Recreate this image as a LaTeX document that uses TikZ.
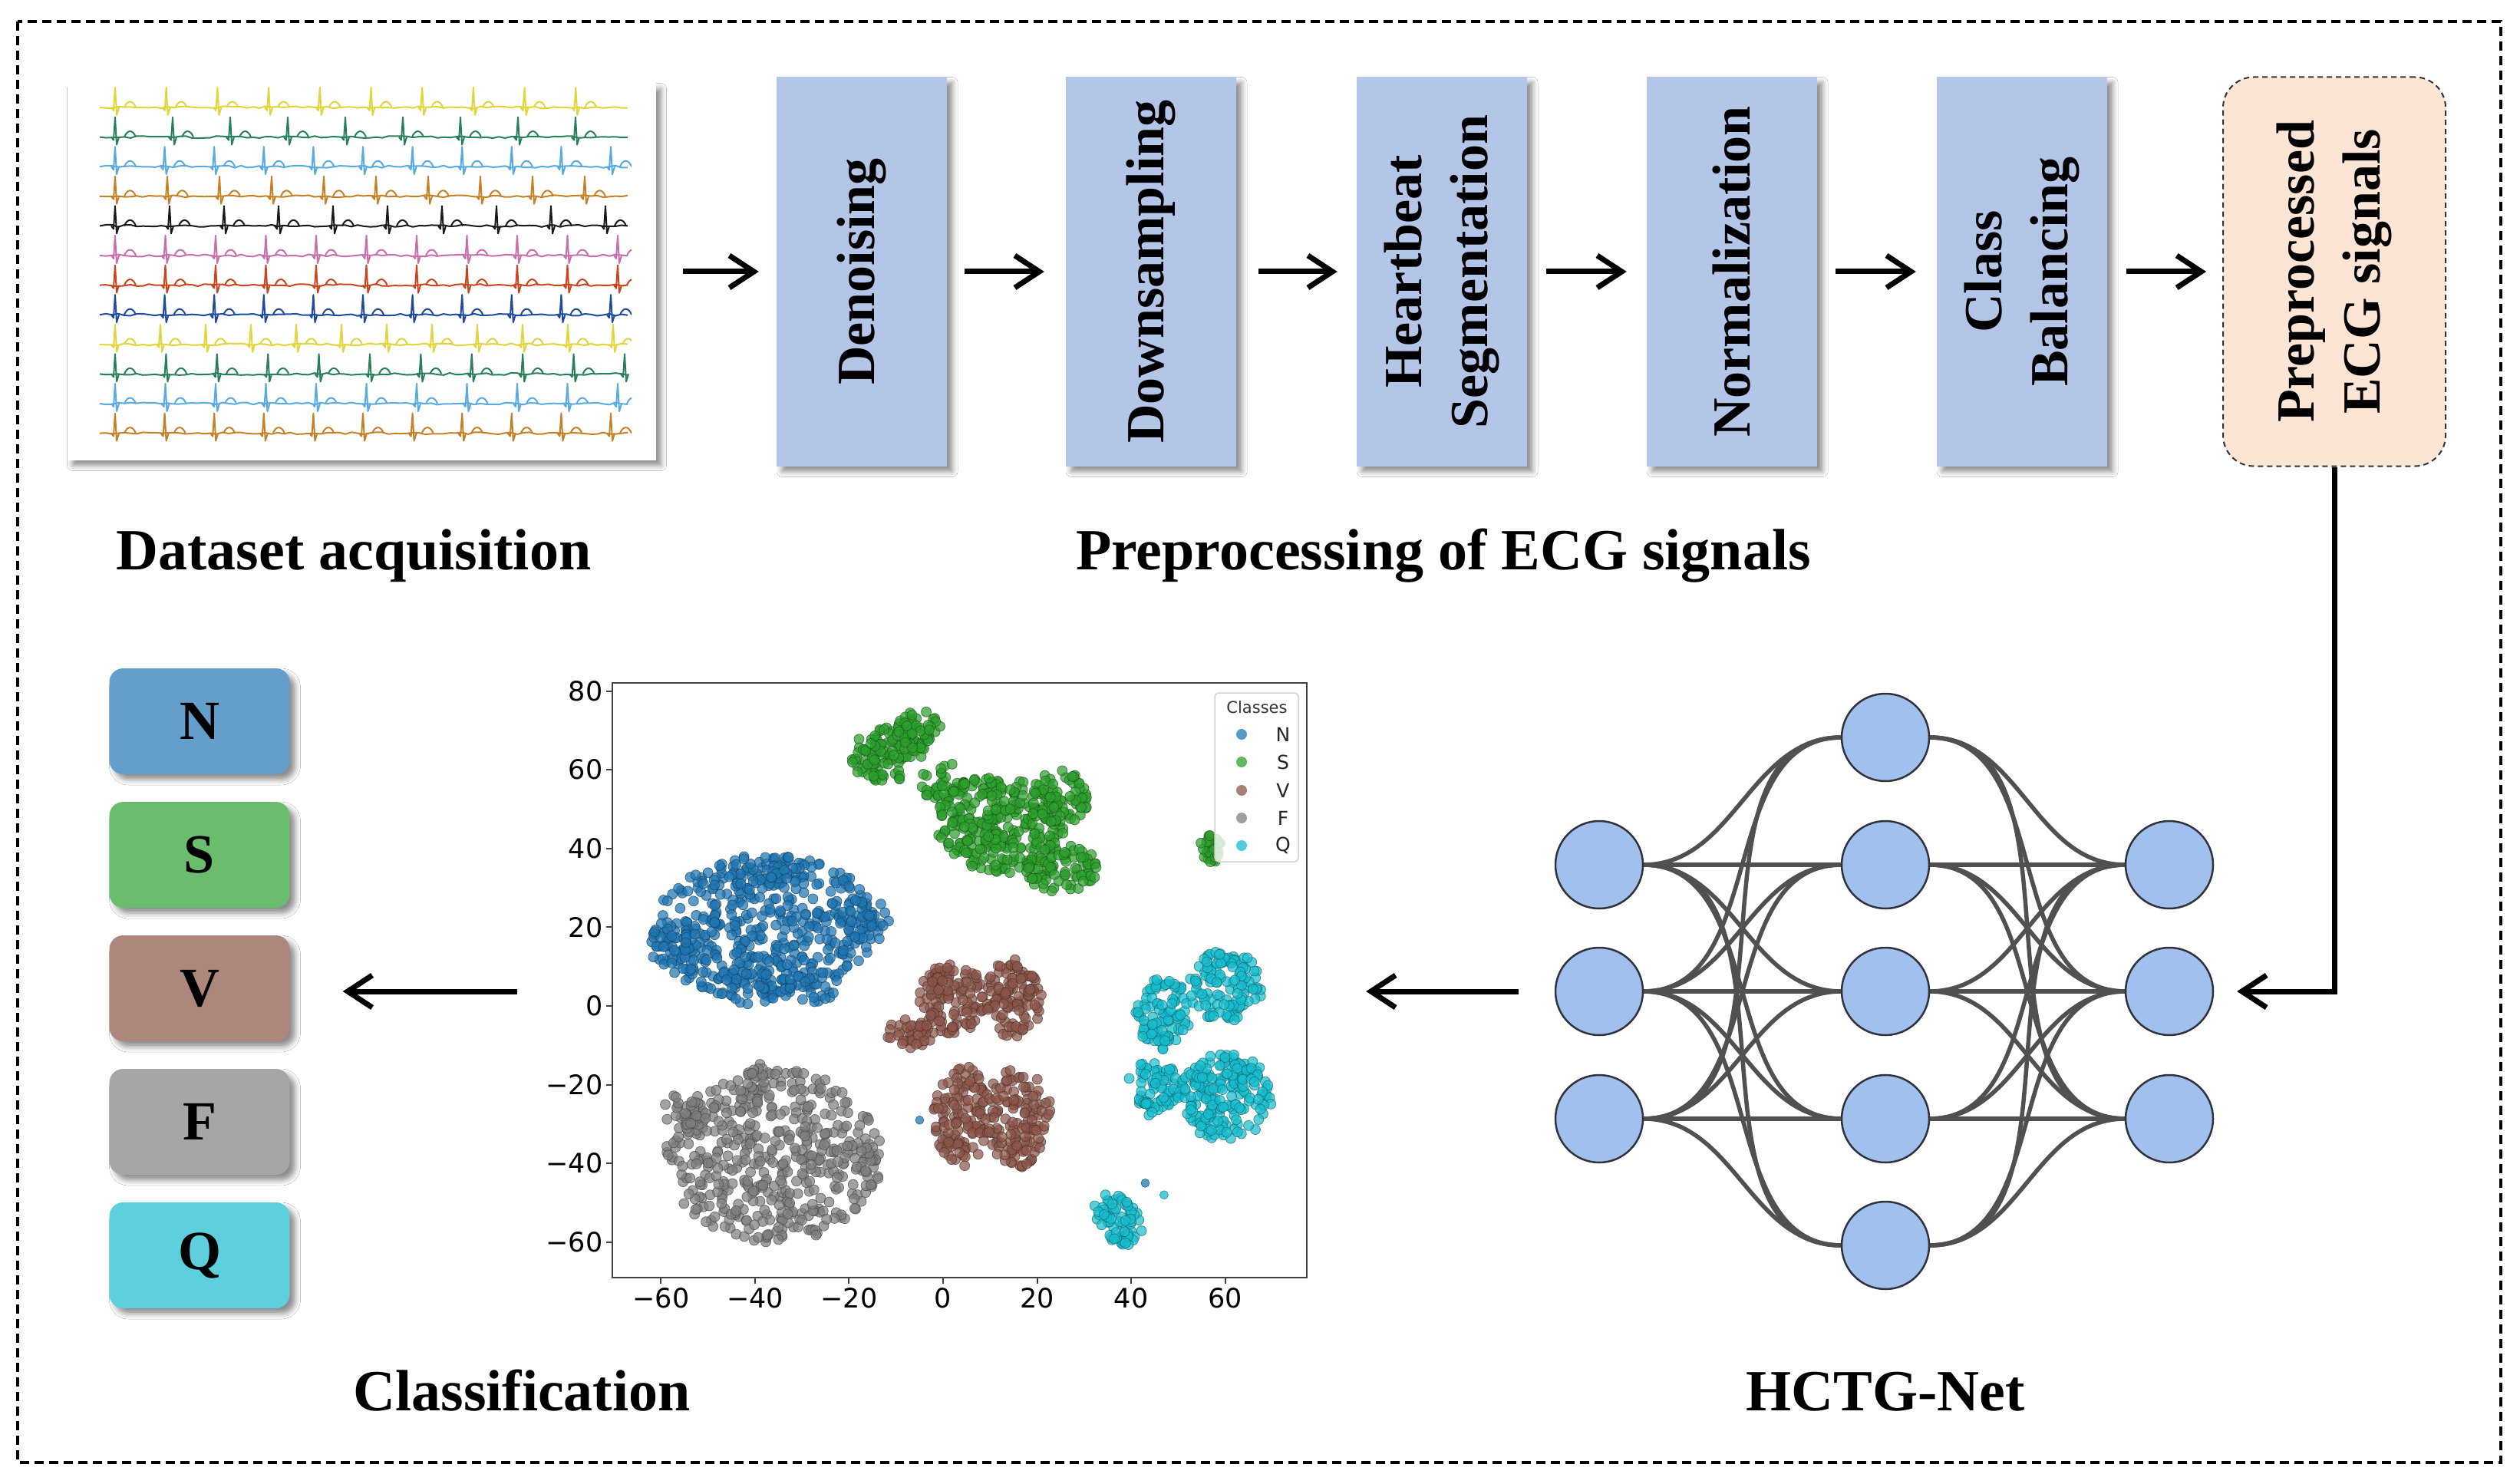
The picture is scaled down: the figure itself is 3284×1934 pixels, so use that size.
\documentclass[tikz,border=0pt]{standalone}
\usepackage{fontspec}
\setmainfont{Liberation Serif}
\newfontfamily\plotfont{DejaVu Sans}
\usetikzlibrary{arrows.meta,shadows,shadows.blur}
\definecolor{boxblue}{RGB}{180,198,231}
\definecolor{peach}{RGB}{252,229,213}
\definecolor{clsN}{RGB}{99,159,202}
\definecolor{clsS}{RGB}{107,189,110}
\definecolor{clsV}{RGB}{173,135,124}
\definecolor{clsF}{RGB}{166,166,166}
\definecolor{clsQ}{RGB}{94,207,220}
\definecolor{tabN}{HTML}{1F77B4}
\definecolor{tabS}{HTML}{2CA02C}
\definecolor{tabV}{HTML}{8C564B}
\definecolor{tabF}{HTML}{7F7F7F}
\definecolor{tabQ}{HTML}{17BECF}
\definecolor{nnfill}{RGB}{160,193,238}
\definecolor{nnborder}{RGB}{50,50,60}
\definecolor{nnedge}{RGB}{80,80,80}
\definecolor{ecgY}{RGB}{226,212,60}
\definecolor{ecgG}{RGB}{40,128,90}
\definecolor{ecgL}{RGB}{88,170,224}
\definecolor{ecgO}{RGB}{196,130,40}
\definecolor{ecgK}{RGB}{25,25,25}
\definecolor{ecgP}{RGB}{200,110,170}
\definecolor{ecgR}{RGB}{200,70,30}
\definecolor{ecgB}{RGB}{30,75,155}
\newcommand\bigbold{\fontsize{76}{90}\selectfont\bfseries}
\newcommand\boxbold{\fontsize{70}{86}\selectfont\bfseries}
\newcommand\clsbold{\fontsize{72}{86}\selectfont\bfseries}
\newcommand\tickfont{\plotfont\fontsize{35}{42}\selectfont}
\newcommand\legfont{\plotfont\fontsize{25}{30}\selectfont}
\newcommand\legtitle{\plotfont\fontsize{21}{25}\selectfont}
\newcommand\tsneblob[7]{%
  \foreach \k in {1,...,#6}{%
    \pgfmathsetmacro\rr{sqrt(rnd)}%
    \pgfmathsetmacro\th{360*rnd}%
    \pgfmathsetmacro\ux{#4*\rr*cos(\th)}%
    \pgfmathsetmacro\uy{#5*\rr*sin(\th)}%
    \pgfmathsetmacro\qx{#2+\ux*cos(#7)-\uy*sin(#7)}%
    \pgfmathsetmacro\qy{#3+\ux*sin(#7)+\uy*cos(#7)}%
    \filldraw[fill=#1,draw=#1!55!black,fill opacity=0.72,draw opacity=0.75,line width=0.7pt] (\qx,\qy) circle[radius=6.5pt];
  }%
}
\begin{document}
\begin{tikzpicture}[x=1pt,y=-1pt,
  softshadow/.style={blur shadow={shadow xshift=7pt,shadow yshift=-7pt,shadow blur radius=7pt,shadow opacity=45}},
  procbox/.style={rectangle,fill=boxblue,minimum width=222pt,minimum height=507pt,inner sep=0pt,softshadow},
  proctext/.style={rotate=90,font=\boxbold,align=center,inner sep=0pt},
  flowarr/.style={line width=7pt,-{Straight Barb[length=32pt,width=42pt]}},
  clsbox/.style={rectangle,rounded corners=18pt,minimum width=235pt,minimum height=138pt,inner sep=0pt,font=\clsbold,softshadow},
  nnshape/.style={circle,minimum size=114pt,inner sep=0pt},
  nnode/.style={nnshape,fill=nnfill,draw=nnborder,line width=2.5pt},
  nnline/.style={draw=nnedge,line width=5.5pt},
  steplabel/.style={font=\bigbold,anchor=base,inner sep=0pt},
  ecgline/.style={line width=2pt,line join=round}
]
\fill[white] (0,0) rectangle (3284,1934);
\useasboundingbox (0,0) rectangle (3284,1934);
% outer dashed frame
\draw[line width=3.5pt,dash pattern=on 12pt off 7pt] (23,28) rectangle (3259,1906);

% ---------- ECG panel ----------
\node[fill=white,minimum width=767pt,minimum height=491pt,inner sep=0pt,softshadow] (ecg) at (471,354) {};
\pgfmathsetseed{777}
\begin{scope}
\clip (128,100) rectangle (823,600);
\foreach \col/\i/\sp/\n in {ecgY/0/66.7/10, ecgG/1/75/9, ecgL/2/64.6/11, ecgO/3/68/10, ecgK/4/71/10, ecgP/5/65.5/11, ecgR/6/65.5/11, ecgB/7/64.6/11, ecgY/8/59/12, ecgG/9/66.4/11, ecgL/10/65.5/11, ecgO/11/64.6/11}{
  \pgfmathsetmacro\yy{140+38.6*\i}
  \draw[\col,ecgline] (130,\yy) \foreach \s in {1,...,86}{ -- ({130+8*\s},{\yy+1.5*rand})};
  \foreach \k in {1,...,\n}{
    \pgfmathsetmacro\xx{150+(\k-1)*\sp}
    \draw[\col,ecgline] (\xx-5,\yy) -- (\xx-2,\yy+4) -- (\xx,\yy-26) -- (\xx+2,\yy+10) -- (\xx+5,\yy)
      (\xx+12,\yy) .. controls (\xx+16,\yy-10) and (\xx+23,\yy-10) .. (\xx+27,\yy);
  }
}
\end{scope}

% ---------- preprocessing boxes ----------
\node[procbox] (den) at (1123,354) {};
\node[procbox] (dwn) at (1500,354) {};
\node[procbox] (hb)  at (1879,354) {};
\node[procbox] (nor) at (2257,354) {};
\node[procbox] (cb)  at (2635,354) {};
\node[proctext] (denT) at (den.center) {Denoising};
\node[proctext] (dwnT) at (dwn.center) {Downsampling};
\node[proctext] (hbT)  at (hb.center)  {Heartbeat\\Segmentation};
\node[proctext] (norT) at (nor.center) {Normalization};
\node[proctext] (cbT)  at (cb.center)  {Class\\Balancing};
\node[rectangle,rounded corners=40pt,fill=peach,draw=black!80,line width=2pt,dash pattern=on 7pt off 5pt,minimum width=290pt,minimum height=507pt,inner sep=0pt] (pre) at (3042,354) {};
\node[proctext] (preT) at (pre.center) {Preprocessed\\ECG signals};

\draw[flowarr,shorten <=35pt,shorten >=23pt] (ecg.east) -- (den.west);
\draw[flowarr,shorten <=23pt,shorten >=28pt] (den.east) -- (dwn.west);
\draw[flowarr,shorten <=29pt,shorten >=25pt] (dwn.east) -- (hb.west);
\draw[flowarr,shorten <=25pt,shorten >=26pt] (hb.east) -- (nor.west);
\draw[flowarr,shorten <=24pt,shorten >=27pt] (nor.east) -- (cb.west);
\draw[flowarr,shorten <=25pt,shorten >=21pt] (cb.east) -- (pre.west);

\node[steplabel] (lblData) at (461,742) {Dataset acquisition};
\node[steplabel] (lblPre) at (1881,742) {Preprocessing of ECG signals};
\node[steplabel] (lblCls) at (680,1838) {Classification};
\node[steplabel] (lblNet) at (2457,1838) {HCTG-Net};

% ---------- neural network ----------
\foreach \j/\y in {1/1127,2/1292,3/1458}{\path node[nnshape] (nI\j) at (2084,\y) {};}
\foreach \j/\y in {1/961,2/1127,3/1292,4/1458,5/1623}{\path node[nnshape] (nH\j) at (2457,\y) {};}
\foreach \j/\y in {1/1127,2/1292,3/1458}{\path node[nnshape] (nO\j) at (2827,\y) {};}
\foreach \i in {1,2,3}{\foreach \j in {1,...,5}{
  \draw[nnline] (nI\i) to[out=0,in=180] (nH\j);
  \draw[nnline] (nH\j) to[out=0,in=180] (nO\i);
}}
\foreach \j in {1,2,3}{\node[nnode] (vI\j) at (nI\j) {}; \node[nnode] (vO\j) at (nO\j) {};}
\foreach \j in {1,...,5}{\node[nnode] (vH\j) at (nH\j) {};}

\draw[line width=7pt,-{Straight Barb[length=32pt,width=42pt]},shorten >=31pt] (pre.south) -- (pre.south |- nO2) -- (nO2.east);

% ---------- class boxes ----------
\node[clsbox,fill=clsN] (cN) at (260,940) {N};
\node[clsbox,fill=clsS] (cS) at (260,1114) {S};
\node[clsbox,fill=clsV] (cV) at (260,1288) {V};
\node[clsbox,fill=clsF] (cF) at (260,1462) {F};
\node[clsbox,fill=clsQ] (cQ) at (260,1636) {Q};

% ---------- t-SNE plot ----------
\node[minimum width=905pt,minimum height=775pt,inner sep=0pt] (plot) at (1250.5,1277.5) {};
\pgfmathsetseed{4242}
\begin{scope}[shift={(1229,1311)},x=6.126pt,y=5.13pt]
  % N
  \tsneblob{tabN}{-38}{20}{24}{18}{400}{5}
  \tsneblob{tabN}{-57}{16}{6}{6}{50}{0}
  \tsneblob{tabN}{-17}{22}{6}{6}{45}{0}
  \tsneblob{tabN}{-41}{5}{9}{5}{50}{0}
  \tsneblob{tabN}{-28}{5}{6}{4}{35}{0}
  \tsneblob{tabN}{-38}{34}{8}{5}{50}{0}
  % S
  \tsneblob{tabS}{-12}{64}{8}{7}{110}{20}
  \tsneblob{tabS}{-5}{70}{5}{5}{50}{0}
  \tsneblob{tabS}{0}{57}{5}{5}{35}{0}
  \tsneblob{tabS}{12}{46}{14}{12}{280}{-20}
  \tsneblob{tabS}{25}{53}{6}{7}{70}{0}
  \tsneblob{tabS}{25}{35}{8}{6}{80}{0}
  \tsneblob{tabS}{57}{40}{2.5}{3.5}{30}{0}
  % V
  \tsneblob{tabV}{2}{2}{7}{9}{120}{0}
  \tsneblob{tabV}{15}{2}{6}{10}{110}{0}
  \tsneblob{tabV}{-7}{-7}{5}{4}{40}{0}
  \tsneblob{tabV}{4}{-28}{6}{13}{120}{0}
  \tsneblob{tabV}{16}{-28}{7}{13}{130}{0}
  % F
  \tsneblob{tabF}{-36}{-38}{23}{22}{480}{0}
  \tsneblob{tabF}{-38}{-17}{3}{3}{12}{0}
  \tsneblob{tabF}{-55}{-27}{5}{5}{30}{0}
  % Q
  \tsneblob{tabQ}{47}{-2}{6}{9}{100}{0}
  \tsneblob{tabQ}{60}{5}{8}{9}{120}{0}
  \tsneblob{tabQ}{45}{-20}{6}{6}{60}{0}
  \tsneblob{tabQ}{60}{-23}{10}{11}{200}{0}
  \tsneblob{tabQ}{43}{-26}{3}{2}{12}{0}
  \tsneblob{tabQ}{37}{-54}{4.5}{7.5}{70}{30}
  % strays
  \filldraw[fill=tabN,draw=tabN!55!black,fill opacity=0.75] (-5,-29) circle[radius=5.5pt];
  \filldraw[fill=tabN,draw=tabN!55!black,fill opacity=0.75] (43,-45) circle[radius=5.5pt];
  \filldraw[fill=tabQ,draw=tabQ!55!black,fill opacity=0.75] (47,-48) circle[radius=5.5pt];
  % frame and ticks
  \draw[black!75,line width=2.5pt] (-70.36,-69.0) rectangle (77.38,82.07);
  \foreach \v/\t in {-60/−60,-40/−40,-20/−20,0/0,20/20,40/40,60/60}{
    \draw[black!75,line width=2pt] (\v,-69) -- (\v,-70.6);
    \node[font=\tickfont,anchor=north,inner sep=0pt] (xt\v) at (\v,-71.6) {\t};
  }
  \foreach \v/\t in {-60/−60,-40/−40,-20/−20,0/0,20/20,40/40,60/60,80/80}{
    \draw[black!75,line width=2pt] (-70.36,\v) -- (-71.7,\v);
    \node[font=\tickfont,anchor=east,inner sep=0pt] (yt\v) at (-72.4,\v) {\t};
  }
\end{scope}
% legend
\draw[draw=black!18,fill=white,fill opacity=0.8,rounded corners=5pt,line width=1.5pt] (1583,903) rectangle (1692,1123);
\node[font=\legtitle,text=black!80] (legT) at (1638,922) {Classes};
\foreach \c/\l/\y in {tabN/N/957,tabS/S/993,tabV/V/1030,tabF/F/1066,tabQ/Q/1102}{
  \fill[\c!75!white] (1618,\y) circle[radius=7pt];
  \node[font=\legfont,text=black!85] (leg\l) at (1672,\y) {\l};
}

% arrows in the lower row
\draw[flowarr,shorten <=48pt,shorten >=77pt] (nI2.west) -- (nI2.west -| plot.east);
\draw[flowarr,shorten <=124pt,shorten >=69pt] (plot.west |- nI2) -- (cV.east |- nI2);
\end{tikzpicture}
\end{document}
